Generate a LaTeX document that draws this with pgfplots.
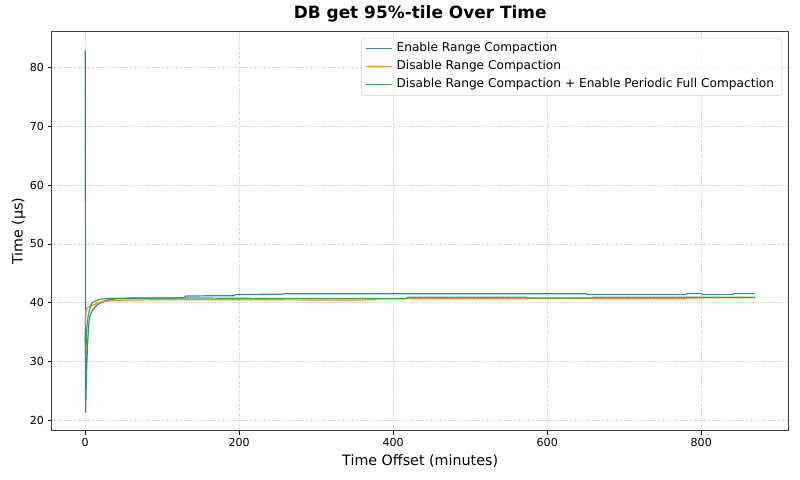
\documentclass[border=0pt]{standalone}
\usepackage{pgfplots}
\pgfplotsset{compat=1.18}
\usepackage{fontspec}
\setmainfont{DejaVu Sans}
\definecolor{tabblue}{HTML}{1F77B4}
\definecolor{taborange}{HTML}{FF7F0E}
\definecolor{tabgreen}{HTML}{2CA02C}
\begin{document}
\begin{tikzpicture}
\useasboundingbox (-46.5bp,-44.4bp) rectangle (673.5bp,387.6bp);
\begin{axis}[
  at={(0,0)}, anchor=south west,
  scale only axis, width=663.3bp, height=358.8bp,
  xmin=-43.5, xmax=913.5, ymin=18.23, ymax=86.07,
  xtick={0,200,400,600,800}, ytick={20,30,40,50,60,70,80},
  tick align=outside, major tick length=3.5bp,
  xtick pos=lower, ytick pos=left,
  tick style={black, line width=0.8bp},
  axis line style={black!75, line width=0.9bp},
  grid=major,
  grid style={gray!45, line width=0.7bp, dash pattern=on 0.8bp off 1.4bp},
  ticklabel style={font=\fontsize{10}{12}\selectfont},
  /pgf/number format/assume math mode=true,
  title={\bfseries DB get 95\%-tile Over Time},
  title style={at={(axis description cs:0.5,1.01756)}, anchor=base, font=\fontsize{15.3}{18}\selectfont},
  xlabel={Time Offset (minutes)},
  xlabel style={at={(axis description cs:0.5,-0.08612)}, anchor=base, font=\fontsize{12.9}{15}\selectfont},
  ylabel={Time (µs)},
  ylabel style={at={(axis description cs:-0.03935,0.5)}, anchor=base, font=\fontsize{12.9}{15}\selectfont},
  legend cell align=left,
  legend image code/.code={\draw[#1, line width=1.1bp] (0bp,0bp) -- (23.4bp,0bp);},
  legend style={at={(axis description cs:1,1)}, anchor=north east, xshift=-6bp, yshift=-5.4bp,
    draw=gray!35, fill=white, fill opacity=0.8, text opacity=1, rounded corners=2.5bp,
    font=\fontsize{11}{13}\selectfont, inner xsep=3.5pt, inner ysep=1.5pt,
    nodes={text height=8pt, text depth=2.4pt, inner ysep=2.9pt, inner xsep=3.5pt}},
]
\addplot[draw=tabblue, line width=1.1bp, opacity=0.9] coordinates {
(0,83.0)(0.6,21.3)(1.2,25)(2,29)(3,32.5)(4,35)(5,36.8)(6,37.6)(8,38.4)(10,38.8)(13,39.3)(16,39.7)(19,39.9)(25,40.3)(30,40.5)(40,40.65)(60,40.75)(100,40.8)(128,40.85)(131,41.15)(193,41.2)(196,41.4)(255,41.45)(258,41.52)(650,41.52)(652,41.4)(780,41.38)(782,41.58)(800,41.55)(802,41.38)(840,41.38)(842,41.55)(870,41.55)
};
\addlegendentry{Enable Range Compaction}
\addplot[draw=taborange, line width=1.1bp, opacity=0.9] coordinates {
(0,36)(0.5,37.5)(1,38.6)(2,39.0)(3,39.2)(5,39.3)(8,39.5)(10,39.6)(15,39.9)(23,40.2)(35,40.35)(54,40.47)(100,40.5)(200,40.5)(350,40.47)(376,40.5)(378,40.65)(418,40.68)(420,40.72)(780,40.72)(782,40.82)(870,40.85)
};
\addlegendentry{Disable Range Compaction}
\addplot[draw=tabgreen, line width=1.1bp, opacity=0.9] coordinates {
(0,35)(0.7,30.3)(1.3,33)(2,35.4)(3,36.8)(4,37.8)(6,39.0)(8.4,39.9)(12,40.2)(19,40.6)(32,40.75)(60,40.8)(150,40.8)(240,40.72)(417,40.72)(419,40.93)(573,40.93)(575,40.8)(657,40.8)(659,40.93)(870,40.93)
};
\addlegendentry{Disable Range Compaction + Enable Periodic Full Compaction}
\end{axis}
\end{tikzpicture}
\end{document}
